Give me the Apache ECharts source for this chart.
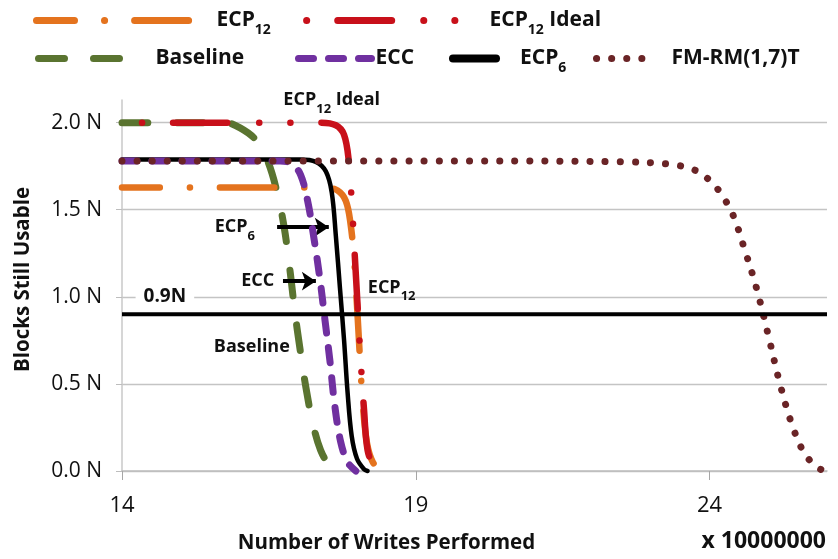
<!DOCTYPE html>
<html>
<head>
<meta charset="utf-8">
<script src="https://cdn.jsdelivr.net/npm/echarts@6/dist/echarts.min.js"></script>
<style>
  html, body { margin: 0; padding: 0; background: #fff; }
  #chart { width: 838px; height: 559px; }
</style>
</head>
<body>
<div id="chart"></div>
<script>
// Writes performed (x 10^7) against blocks still usable (in units of N)
const xTicks = [14, 19, 24];
const yTicks = [0, 0.5, 1.0, 1.5, 2.0];

const baselineData = [
  [14, 2.0], [15.75, 2.0], [16.01, 1.97], [16.28, 1.90], [16.48, 1.78], [16.64, 1.60],
  [16.76, 1.40], [16.86, 1.15], [16.94, 0.92], [17.03, 0.70], [17.13, 0.48], [17.25, 0.27],
  [17.38, 0.12], [17.54, 0.03], [17.71, 0.0]
];
const eccData = [
  [14, 1.78], [16.69, 1.78], [16.89, 1.765], [17.04, 1.70], [17.16, 1.55], [17.27, 1.33],
  [17.37, 1.10], [17.45, 0.88], [17.54, 0.63], [17.62, 0.38], [17.72, 0.17], [17.84, 0.05],
  [17.98, 0.0]
];
const ecp6Data = [
  [14, 1.788], [17.03, 1.788], [17.30, 1.775], [17.47, 1.72], [17.57, 1.60], [17.64, 1.35],
  [17.71, 1.05], [17.78, 0.75], [17.84, 0.45], [17.91, 0.20], [18.00, 0.07], [18.12, 0.01],
  [18.18, 0.0]
];
const ecp12Data = [
  [14, 1.627], [17.45, 1.627], [17.67, 1.61], [17.81, 1.55], [17.89, 1.42], [17.95, 1.22],
  [18.00, 0.95], [18.05, 0.65], [18.10, 0.38], [18.17, 0.16], [18.27, 0.05], [18.42, 0.0]
];
const ecp12IdealData = [
  [14, 2.0], [17.37, 2.0], [17.64, 1.985], [17.78, 1.93], [17.86, 1.78], [17.91, 1.55],
  [17.96, 1.25], [18.01, 0.95], [18.06, 0.65], [18.12, 0.35], [18.18, 0.12], [18.29, 0.03],
  [18.46, 0.0]
];
const fmrmData = [
  [14, 1.78], [20, 1.78], [22.5, 1.775], [23.3, 1.762], [23.73, 1.73], [24.0, 1.67],
  [24.2, 1.59], [24.4, 1.47], [24.6, 1.27], [24.8, 1.05], [25.0, 0.78], [25.2, 0.50],
  [25.4, 0.27], [25.6, 0.11], [25.8, 0.03], [25.95, 0.0]
];
const thresholdValue = 0.9;
const xRange = [14, 26];
const yRange = [0, 2.13];

// In-plot annotations: text and arrow positions in data units
const noteTexts = [
  { name: 'ECP12 Ideal', coord: [17.57, 2.13] },
  { name: 'ECP6', coord: [15.92, 1.40] },
  { name: 'ECC', coord: [16.31, 1.09] },
  { name: 'ECP12', coord: [18.59, 1.054] },
  { name: 'Baseline', coord: [16.21, 0.71] }
];
const noteArrows = [
  [[16.64, 1.40], [17.52, 1.40]],
  [[16.74, 1.09], [17.30, 1.09]]
];

const FONT = '"Open Sans", "DejaVu Sans", sans-serif';
const INK = '#111111';

// Rich text for names with numeric subscripts (ECP12, ECP6)
function subName(name) {
  const m = name.match(/^ECP(\d+)(.*)$/);
  if (!m) return '{b|' + name + '}';
  return '{b|ECP}{s|' + m[1] + '}' + (m[2] ? '{b|' + m[2] + '}' : '');
}
function richFor(size, subSize, drop) {
  const base = { fontFamily: FONT, fontWeight: 'bold', color: INK, textBorderWidth: 0 };
  return {
    b: Object.assign({ fontSize: size }, base),
    s: Object.assign({ fontSize: subSize, padding: [drop, 0, 0, 0] }, base)
  };
}

const C = {
  ecp12: '#E4731E',
  ideal: '#C8101A',
  base: '#5A7430',
  ecc: '#7030A0',
  ecp6: '#000000',
  fmrm: '#6A2426'
};

function lineSeries(name, data, color, width, type, z, dashOffset) {
  return {
    name, type: 'line', data, smooth: 0.35, symbol: 'none',
    clip: false, z,
    lineStyle: { color, width, type, dashOffset: dashOffset || 0, cap: 'round', join: 'round' },
    itemStyle: { color }
  };
}

function legendItem(name, left, top, itemWidth, width, gap) {
  return {
    left, top, itemWidth, itemHeight: 14, itemGap: 0, padding: 0,
    selectedMode: false, data: [name],
    lineStyle: { width },
    itemStyle: { color: 'rgba(0,0,0,0)', borderColor: 'rgba(0,0,0,0)', borderWidth: 0 },
    formatter: subName,
    textStyle: { rich: richFor(21, 14, 20), padding: [0, 0, 0, gap - 5] }
  };
}

const chart = echarts.init(document.getElementById('chart'), null, { renderer: 'canvas' });
chart.setOption({
  animation: false,
  backgroundColor: '#ffffff',
  grid: { left: 122, right: 11, top: 100, bottom: 87 },
  legend: [
    legendItem('ECP12', 33, 10, 159, 7, 21),
    legendItem('ECP12 Ideal', 283, 10, 179, 7, 24),
    legendItem('Baseline', 35, 48, 88, 7, 29),
    legendItem('ECC', 295, 48, 73, 7, 4),
    legendItem('ECP6', 449, 48, 43, 8, 24),
    legendItem('FM-RM(1,7)T', 593, 48, 46, 7, 29)
  ],
  xAxis: {
    type: 'value', min: xRange[0], max: xRange[1], interval: 5,
    name: 'Number of Writes Performed', nameLocation: 'middle', nameGap: 62,
    nameTextStyle: { fontFamily: FONT, fontSize: 20.5, fontWeight: 'bold', color: INK, padding: [0, 176, 0, 0] },
    axisLine: { show: true, lineStyle: { color: '#BDBDBD', width: 1.5 } },
    axisTick: { show: true, length: 9, customValues: xTicks, lineStyle: { color: '#A6A6A6' } },
    axisLabel: { customValues: xTicks, fontFamily: FONT, fontSize: 22, color: INK, margin: 24 },
    splitLine: { show: false }
  },
  yAxis: {
    type: 'value', min: yRange[0], max: yRange[1], interval: 0.5,
    name: 'Blocks Still Usable', nameLocation: 'middle', nameGap: 88, nameRotate: 90,
    nameTextStyle: { fontFamily: FONT, fontSize: 20.5, fontWeight: 'bold', color: INK, padding: [0, 0, 0, 12] },
    axisLine: { show: true, lineStyle: { color: '#C8C8C8', width: 1.5 } },
    axisTick: { show: true, length: 6, customValues: yTicks, lineStyle: { color: '#BDBDBD' } },
    axisLabel: {
      customValues: yTicks, fontFamily: FONT, fontSize: 21, color: INK, margin: 20,
      formatter: v => v.toFixed(1) + ' N'
    },
    splitLine: { show: true, lineStyle: { color: '#C4C4C4', width: 1.3 } }
  },
  graphic: [{
    type: 'text', right: 12, top: 530,
    style: { text: 'x 10000000', font: 'bold 23px ' + FONT, fill: INK }
  }],
  series: [
    lineSeries('Baseline', baselineData, C.base, 7, [26, 29], 2),
    lineSeries('ECP12', ecp12Data, C.ecp12, 6.5, [54, 30, 0.1, 30], 3, 16),
    lineSeries('ECP6', ecp6Data, C.ecp6, 4.5, 'solid', 4),
    lineSeries('ECC', eccData, C.ecc, 7, [15, 15], 5),
    lineSeries('ECP12 Ideal', ecp12IdealData, C.ideal, 6.5, [54, 32, 0.1, 31, 0.1, 31], 6, 97),
    lineSeries('FM-RM(1,7)T', fmrmData, C.fmrm, 7, [0.1, 15], 7),
    {
      name: '0.9N', type: 'line', symbol: 'none', clip: false, z: 8,
      data: [[xRange[0], thresholdValue], [xRange[1], thresholdValue]],
      lineStyle: { color: '#000', width: 4 },
      markPoint: {
        symbol: 'rect', symbolSize: 0,
        data: [{ coord: [14.73, thresholdValue + 0.1], value: '0.9N' }],
        label: {
          show: true, position: 'inside', formatter: '0.9N',
          fontFamily: FONT, fontSize: 19, fontWeight: 'bold', color: INK,
          textBorderWidth: 0, backgroundColor: '#ffffff', padding: [1, 8, 1, 8]
        }
      }
    },
    {
      name: 'notes', type: 'line', data: [], symbol: 'none', z: 9,
      markPoint: {
        symbol: 'rect', symbolSize: 0, silent: true,
        data: noteTexts,
        label: {
          show: true, position: 'inside', color: INK, textBorderWidth: 0,
          formatter: p => subName(p.name),
          rich: richFor(18, 13, 18)
        }
      },
      markLine: {
        silent: true, symbol: ['none', 'arrow'], symbolSize: [14, 14],
        label: { show: false },
        lineStyle: { color: '#000', width: 4, type: 'solid' },
        data: noteArrows.map(a => [{ coord: a[0] }, { coord: a[1] }])
      }
    }
  ]
});
</script>
</body>
</html>
